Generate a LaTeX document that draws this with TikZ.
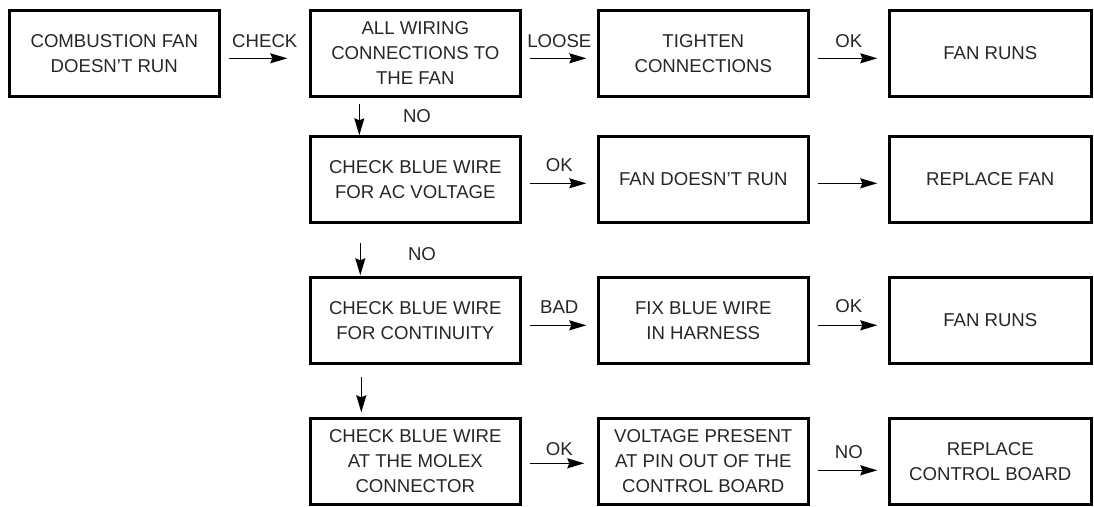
\documentclass[tikz,border=0pt]{standalone}
\usepackage{fontspec}
\setmainfont{Liberation Sans}
\usepackage{tikz}
\usetikzlibrary{arrows.meta,positioning,calc}
\tikzset{
	box/.style={
		rectangle,
		line width=2.6pt,
		draw=black,
		text=black!85,
		align=center,
		minimum width=210pt,
		minimum height=86pt,
		outer sep=0pt,
		font=\fontsize{18.6}{25}\selectfont,
	},
	flow/.style={
		-{Stealth[length=17pt,width=10pt,inset=2pt]},
		line width=1.4pt,
		shorten <=10pt,
		shorten >=12pt,
	},
	tag/.style={
		text=black!85,
		inner sep=0pt,
		font=\fontsize{18.6}{22}\selectfont,
	},
}

\begin{document}
\begin{tikzpicture}[x=1pt, y=1pt]
	% nodes
	\node [box] (start) {COMBUSTION FAN\\DOESN'T RUN};
	\node [box] (wiring) [right=91pt of start] {ALL WIRING\\CONNECTIONS TO\\THE FAN};
	\node [box] (tighten) [right=78pt of wiring] {TIGHTEN\\CONNECTIONS};
	\node [box, minimum width=202pt] (runs1) [right=81pt of tighten] {FAN RUNS};
	\node [box] (acv) [below=40pt of wiring] {CHECK BLUE WIRE\\FOR AC VOLTAGE};
	\node [box] (nofan) [right=78pt of acv] {FAN DOESN'T RUN};
	\node [box, minimum width=202pt] (repfan) [right=81pt of nofan] {REPLACE FAN};
	\node [box] (cont) [below=55pt of acv] {CHECK BLUE WIRE\\FOR CONTINUITY};
	\node [box] (fix) [right=78pt of cont] {FIX BLUE WIRE\\IN HARNESS};
	\node [box, minimum width=202pt] (runs2) [right=81pt of fix] {FAN RUNS};
	\node [box] (molex) [below=55pt of cont] {CHECK BLUE WIRE\\AT THE MOLEX\\CONNECTOR};
	\node [box] (pin) [right=78pt of molex] {VOLTAGE PRESENT\\AT PIN OUT OF THE\\CONTROL BOARD};
	\node [box, minimum width=202pt] (board) [right=81pt of pin] {REPLACE\\CONTROL BOARD};
	\useasboundingbox ($(start.north west)+(-9.3,10.3)$) rectangle ++(1094,-506);

	%arcs
	\draw [flow, shorten >=23pt] ([yshift=-5pt]start.east) -- node [tag, above=10pt] {CHECK} ([yshift=-5pt]wiring.west);
	\draw [flow] ([yshift=-5pt]wiring.east) -- node [tag, above=10pt] {LOOSE} ([yshift=-5pt]tighten.west);
	\draw [flow] ([yshift=-5pt]tighten.east) -- node [tag, above=10pt] {OK} ([yshift=-5pt]runs1.west);
	\draw [flow, shorten <=8pt, shorten >=1pt] ([xshift=49pt]wiring.south west) -- node [tag, right=43pt] {NO} ([xshift=49pt]acv.north west);
	\draw [flow] ([yshift=-4pt]acv.east) -- node [tag, above=11pt] {OK} ([yshift=-4pt]nofan.west);
	\draw [flow] ([yshift=-4pt]nofan.east) -- ([yshift=-4pt]repfan.west);
	\draw [flow, shorten <=21pt, shorten >=2pt] ([xshift=50pt]acv.south west) -- node [tag, right=47pt, yshift=-4pt] {NO} ([xshift=50pt]cont.north west);
	\draw [flow] ([yshift=-5pt]cont.east) -- node [tag, above=11pt] {BAD} ([yshift=-5pt]fix.west);
	\draw [flow] ([yshift=-5pt]fix.east) -- node [tag, above=12pt] {OK} ([yshift=-5pt]runs2.west);
	\draw [flow, shorten <=14pt, shorten >=6pt] ([xshift=51pt]cont.south west) -- ([xshift=51pt]molex.north west);
	\draw [flow, shorten >=14pt] ([yshift=-2pt]molex.east) -- node [tag, above=7pt] {OK} ([yshift=-2pt]pin.west);
	\draw [flow] ([yshift=-9pt]pin.east) -- node [tag, above=11pt] {NO} ([yshift=-9pt]board.west);
\end{tikzpicture}
\end{document}
